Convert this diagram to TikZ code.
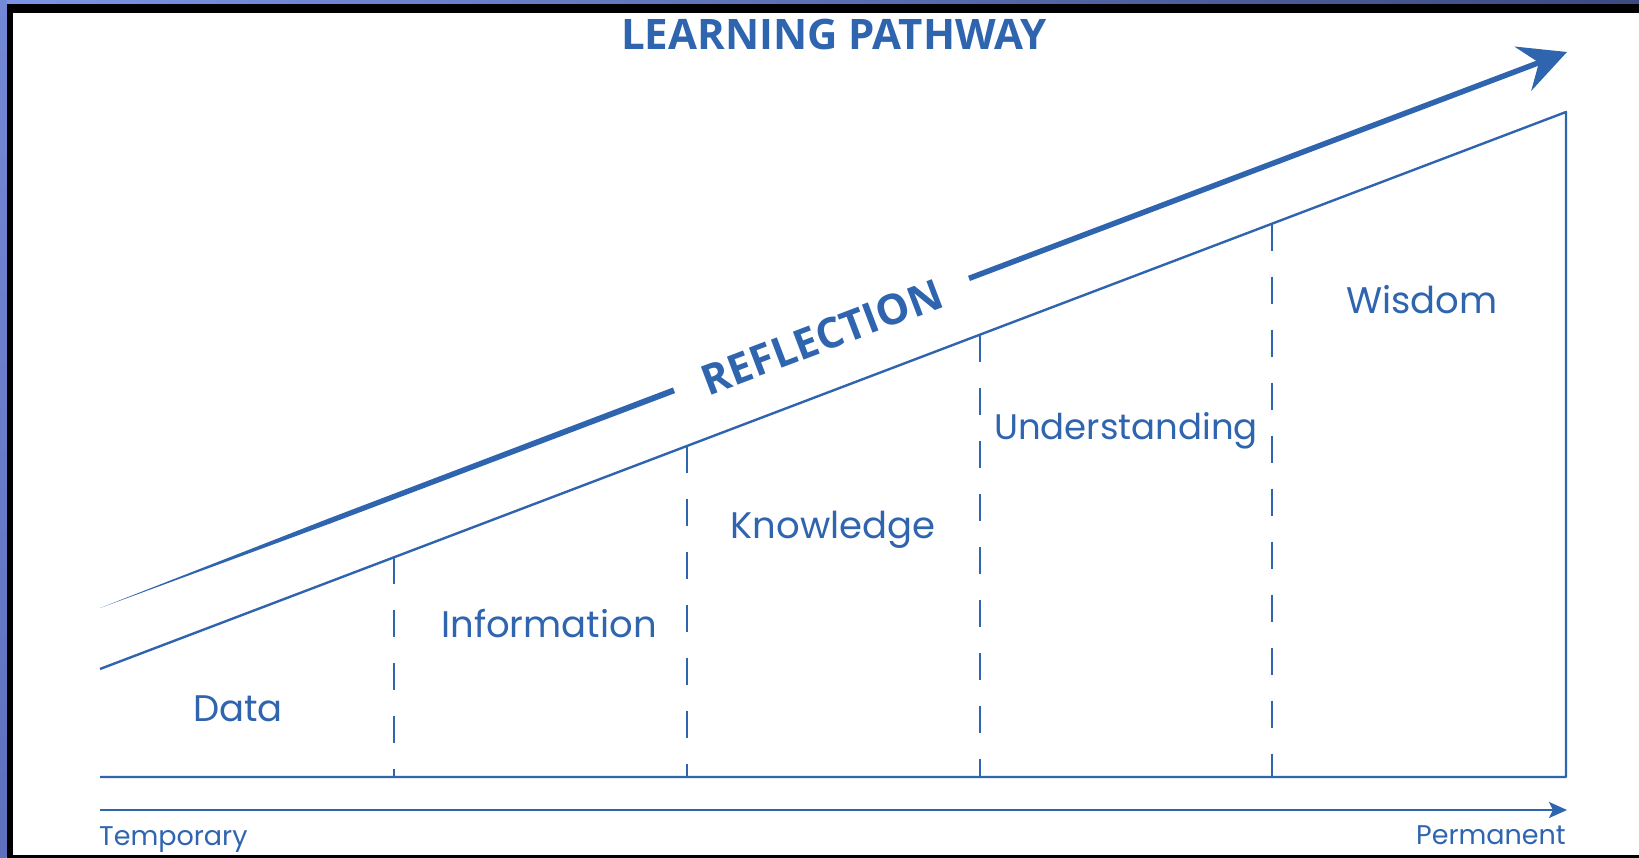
\documentclass[tikz,border=0pt]{standalone}
\usepackage{fontspec}
\setmainfont{Poppins}
\newfontfamily\titlefont{Open Sans}
\usetikzlibrary{arrows.meta,calc}
\definecolor{lpblue}{HTML}{2F64AF}
\definecolor{frameA}{HTML}{7D95E8}
\definecolor{frameB}{HTML}{3C4A80}
\definecolor{frameL}{HTML}{7388D6}
\definecolor{frameL2}{HTML}{5F6FBF}
\tikzset{
  mainline/.style={draw=lpblue, line width=2.4pt},
  divider/.style={draw=lpblue, line width=2pt, dash pattern=on 27pt off 26pt},
  stagelabel/.style={text=lpblue, font=\fontsize{37}{40}\selectfont, anchor=base, inner sep=0pt},
  endlabel/.style={text=lpblue, font=\fontsize{27}{30}\selectfont, inner sep=0pt},
  bigtitle/.style={text=lpblue, font=\titlefont\bfseries\fontsize{42}{46}\selectfont, inner sep=0pt}
}
\begin{document}
\begin{tikzpicture}[x=1pt,y=-1pt]
\useasboundingbox (0,0) rectangle (1639,858);
% frame
\fill[white] (0,0) rectangle (1639,858);
\shade[left color=frameA, right color=frameB] (0,0) rectangle (1639,4.5);
\shade[top color=frameL, bottom color=frameL2] (0,0) rectangle (6.5,858);
\fill[black] (6.5,4.5) rectangle (1639,13);
\fill[black] (6.5,4.5) rectangle (13,858);
\fill[black] (6.5,855) rectangle (1639,858);

% coordinates
\coordinate (bl) at (100,777);
\coordinate (br) at (1566,777);
\coordinate (tl) at (100,669);
\coordinate (tr) at (1566,112);
\foreach \n/\x in {1/394,2/687,3/980,4/1272}{
  \coordinate (d\n top) at (\x,{669-0.37995*(\x-100)});
  \coordinate (d\n bot) at (\x,777);
}
% staircase shape
\draw[mainline, line join=round] (tl) -- (tr) -- (br) -- (bl);
\foreach \n in {1,2,3,4}{ \draw[divider] (d\n top) -- (d\n bot); }

% timeline arrow
\coordinate (ta) at (100,810);
\coordinate (tb) at (1567,810);
\draw[lpblue, line width=2.2pt, -{Stealth[length=18pt,width=16pt,inset=4pt]}] (ta) -- (tb);
\node[endlabel, anchor=base west] (temp) at (99,845) {Temporary};
\node[endlabel, anchor=base east] (perm) at (1566,844) {Permanent};

% reflection arrow
\coordinate (rs) at (100,608);
\coordinate (rm) at (330,520.8);
\coordinate (gs) at (674,390.3);
\coordinate (ge) at (969,278.4);
\coordinate (rt) at (1567,52);
\fill[lpblue] (rs) -- ($(rm)!2.6pt!90:(gs)$) -- ($(gs)!3pt!-90:(rm)$) -- ($(gs)!3pt!90:(rm)$) -- ($(rm)!2.6pt!-90:(gs)$) -- cycle;
\draw[lpblue, line width=5.5pt, -{Stealth[length=47pt,width=47pt,inset=17pt]}] (ge) -- (rt);
\node[bigtitle, rotate=20.8] (refl) at (822,337) {REFLECTION};

% title
\node[bigtitle, anchor=base] (title) at (834,50) {LEARNING PATHWAY};

% stage labels
\node[stagelabel] (data) at (238,721) {Data};
\node[stagelabel] (info) at (549,637) {Information};
\node[stagelabel] (know) at (833,538) {Knowledge};
\node[stagelabel, font=\fontsize{35.5}{38}\selectfont] (und) at (1126,439) {Understanding};
\node[stagelabel] (wis) at (1422,314) {Wisdom};
\end{tikzpicture}
\end{document}
